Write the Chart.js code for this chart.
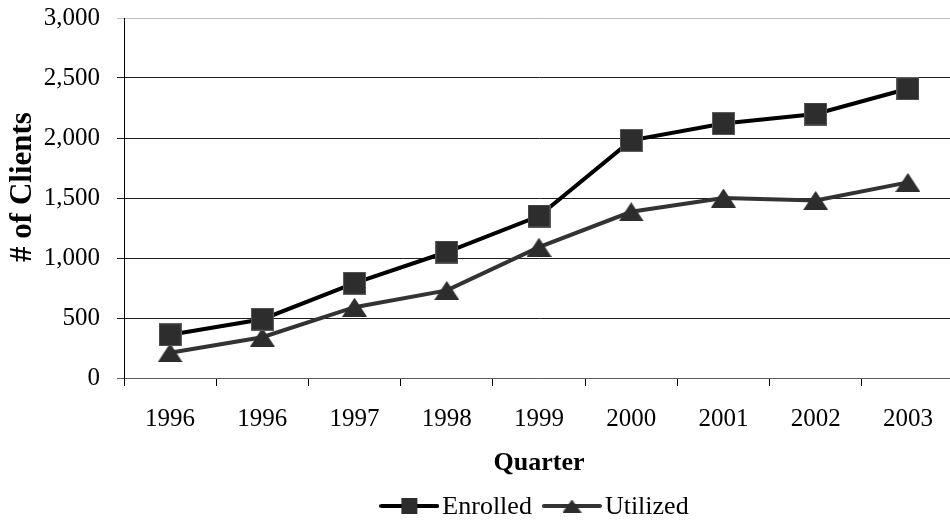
<!DOCTYPE html>
<html>
<head>
<meta charset="utf-8">
<script src="https://cdn.jsdelivr.net/npm/chart.js@4/dist/chart.umd.min.js"></script>
<style>
  html, body { margin: 0; padding: 0; background: #fff; overflow: hidden; }
  #wrap { width: 970px; height: 520px; }
</style>
</head>
<body>
<div id="wrap"><canvas id="c" width="970" height="520"></canvas></div>
<script>
// Client counts by quarter
const quarters = ['1996', '1996', '1997', '1998', '1999', '2000', '2001', '2002', '2003'];
const enrolled = [360, 490, 790, 1050, 1350, 1980, 2120, 2200, 2410];
const utilized = [210, 340, 590, 730, 1090, 1385, 1500, 1480, 1630];
const yTicks = [0, 500, 1000, 1500, 2000, 2500, 3000];
const seriesNames = ['Enrolled', 'Utilized'];
const yTitle = '# of Clients';

const SERIF = "'Liberation Serif', 'Times New Roman', serif";
const MARK_FILL = '#2d2d2d';

function squareMarker(size, edge) {
  const c = document.createElement('canvas');
  c.width = size; c.height = size;
  const g = c.getContext('2d');
  g.fillStyle = MARK_FILL;
  g.fillRect(0, 0, size, size);
  if (edge) {
    g.strokeStyle = edge;
    g.lineWidth = 1;
    g.strokeRect(0.5, 0.5, size - 1, size - 1);
  }
  return c;
}

function triangleMarker(w, h) {
  const c = document.createElement('canvas');
  c.width = w; c.height = h;
  const g = c.getContext('2d');
  g.fillStyle = MARK_FILL;
  g.beginPath();
  g.moveTo(w / 2, 0);
  g.lineTo(w, h);
  g.lineTo(0, h);
  g.closePath();
  g.fill();
  return c;
}

// legend swatch: a short stroke of the series line with its marker on top
function legendSwatch(lineColor, marker) {
  const w = 60, h = 22;
  const c = document.createElement('canvas');
  c.width = w; c.height = h;
  const g = c.getContext('2d');
  g.strokeStyle = lineColor;
  g.lineWidth = 4;
  g.lineCap = 'round';
  g.beginPath();
  g.moveTo(2, h / 2);
  g.lineTo(w - 2, h / 2);
  g.stroke();
  g.drawImage(marker, (w - marker.width) / 2, (h - marker.height) / 2);
  return c;
}

const squarePt = squareMarker(23, '#5c5c5c');
const trianglePt = triangleMarker(25, 19);
const swatches = [
  legendSwatch('#000000', squareMarker(16)),
  legendSwatch('#333333', triangleMarker(19, 13))
];

// bottom legend centred under the plot area, plus the rotated value-axis title
const chartText = {
  id: 'chartText',
  afterDraw(chart) {
    const ctx = chart.ctx;
    const area = chart.chartArea;
    ctx.save();
    ctx.font = '26px ' + SERIF;
    ctx.textBaseline = 'middle';
    ctx.fillStyle = '#000';
    const gapText = 3, gapItem = 10;
    const widths = seriesNames.map((n, i) => swatches[i].width + gapText + ctx.measureText(n).width);
    const total = widths.reduce((a, b) => a + b, 0) + gapItem * (seriesNames.length - 1);
    let x = (area.left + area.right) / 2 - total / 2 - 5;
    const y = 506;
    seriesNames.forEach((n, i) => {
      const sw = swatches[i];
      ctx.drawImage(sw, x, Math.round(y - sw.height / 2));
      ctx.fillText(n, x + sw.width + gapText, y + 1);
      x += widths[i] + gapItem;
    });

    ctx.translate(23, 187);
    ctx.rotate(-Math.PI / 2);
    ctx.font = 'bold 31px ' + SERIF;
    ctx.textAlign = 'center';
    ctx.fillText(yTitle, 0, 0);
    ctx.restore();
  }
};

new Chart(document.getElementById('c'), {
  type: 'line',
  data: {
    labels: quarters,
    datasets: [
      {
        label: seriesNames[0],
        data: enrolled,
        borderColor: '#000000',
        borderWidth: 4,
        pointStyle: squarePt,
        pointRadius: 12,
        tension: 0
      },
      {
        label: seriesNames[1],
        data: utilized,
        borderColor: '#333333',
        borderWidth: 4,
        pointStyle: trianglePt,
        pointRadius: 12,
        tension: 0
      }
    ]
  },
  options: {
    responsive: false,
    animation: false,
    devicePixelRatio: 1,
    layout: { padding: { top: 18, right: 14, bottom: 40, left: 0 } },
    plugins: {
      legend: { display: false },
      tooltip: { enabled: false }
    },
    scales: {
      x: {
        type: 'category',
        offset: true,
        grid: {
          offset: true,
          drawOnChartArea: false,
          drawTicks: true,
          tickLength: 8,
          color: '#000'
        },
        border: { display: true, color: '#5e5e5e', width: 1 },
        ticks: {
          color: '#000',
          font: { family: SERIF, size: 25 },
          padding: 18,
          maxRotation: 0,
          autoSkip: false
        },
        title: {
          display: true,
          text: 'Quarter',
          color: '#000',
          font: { family: SERIF, size: 26, weight: 'bold', lineHeight: 1.2 },
          padding: { top: 0, bottom: 1 }
        },
        afterFit(scale) {
          scale.height = 102;
          scale.paddingLeft = 0;
          scale.paddingRight = 0;
        }
      },
      y: {
        min: 0,
        max: 3000,
        afterBuildTicks(scale) { scale.ticks = yTicks.map(v => ({ value: v })); },
        grid: {
          drawTicks: true,
          tickLength: 7,
          color: ctx => (ctx.tick && ctx.tick.value === 3000 ? '#bdbdbd' : (ctx.tick && ctx.tick.value === 0 ? '#5e5e5e' : '#1e1e1e')),
          lineWidth: 1
        },
        border: { display: true, color: '#000', width: 1 },
        ticks: {
          color: '#000',
          font: { family: SERIF, size: 25 },
          padding: 17,
          callback: v => v.toLocaleString('en-US')
        },
        title: { display: false },
        afterFit(scale) {
          scale.width = 124;
          scale.paddingTop = 0;
          scale.paddingBottom = 0;
        }
      }
    }
  },
  plugins: [chartText]
});
</script>
</body>
</html>
